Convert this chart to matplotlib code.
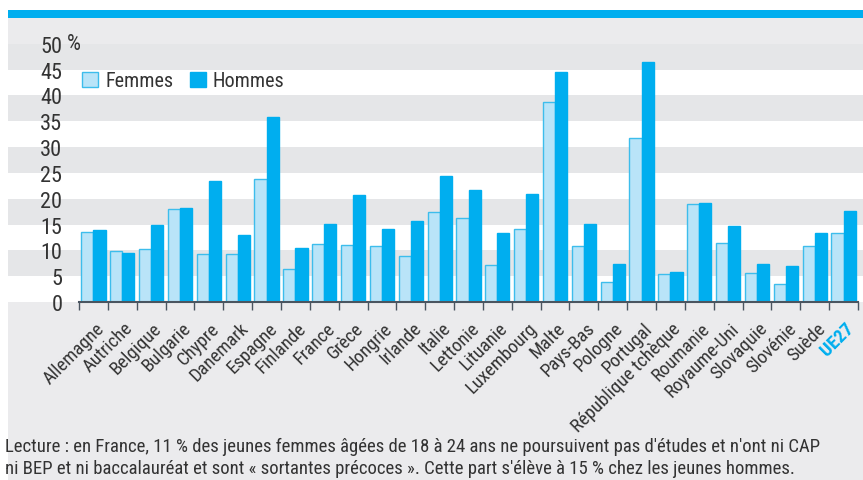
import matplotlib
matplotlib.use("Agg")
import matplotlib.pyplot as plt
from matplotlib.patches import Rectangle
import numpy as np
import logging
logging.getLogger("matplotlib.font_manager").setLevel(logging.ERROR)

plt.rcParams['font.family'] = ['Liberation Sans Narrow', 'DejaVu Sans Condensed',
                               'Roboto Condensed', 'Liberation Sans', 'DejaVu Sans']

pays = ["Allemagne", "Autriche", "Belgique", "Bulgarie", "Chypre", "Danemark",
        "Espagne", "Finlande", "France", "Grèce", "Hongrie", "Irlande", "Italie",
        "Lettonie", "Lituanie", "Luxembourg", "Malte", "Pays-Bas", "Pologne",
        "Portugal", "République tchèque", "Roumanie", "Royaume-Uni", "Slovaquie",
        "Slovénie", "Suède", "UE27"]
femmes = [13.6, 9.8, 10.3, 18.0, 9.2, 9.2, 23.8, 6.4, 11.2, 11.0, 10.8, 9.0, 17.4,
          16.2, 7.1, 14.1, 38.8, 10.8, 3.8, 31.7, 5.5, 18.9, 11.5, 5.6, 3.4, 10.8, 13.3]
hommes = [14.0, 9.4, 14.9, 18.3, 23.5, 12.9, 35.9, 10.5, 15.1, 20.7, 14.1, 15.6, 24.4,
          21.6, 13.3, 20.9, 44.6, 15.1, 7.3, 46.4, 5.8, 19.2, 14.7, 7.4, 7.0, 13.3, 17.6]
yticks = [0, 5, 10, 15, 20, 25, 30, 35, 40, 45, 50]

light_blue = "#b9e4f8"
light_edge = "#3dbdec"
blue = "#00aeef"
gray_bg = "#ebebed"
gray_band = "#e5e6e8"
text_col = "#333333"

W, H = 863, 481
fig = plt.figure(figsize=(W / 100, H / 100), dpi=100, facecolor="white")

# gray background + top blue bar
fig.add_artist(Rectangle((8 / W, 0), 1, 462 / H, transform=fig.transFigure,
                         facecolor=gray_bg, edgecolor="none", zorder=-10))
fig.add_artist(Rectangle((8 / W, 462 / H), 1, 8 / H, transform=fig.transFigure,
                         facecolor=blue, edgecolor="none", zorder=-10))

ax = fig.add_axes([79 / W, 178 / H, 779 / W, 284 / H])
ax.set_facecolor("none")
ax.set_xlim(0, 27)
ax.set_ylim(0, 55)

x0 = (8 - 79) / 779
x1 = 1 + 6 / 779
for lo in range(0, 50, 10):
    ax.axhspan(lo, lo + 5, xmin=x0, xmax=x1, color="white", clip_on=False, zorder=0, lw=0)
    ax.axhspan(lo + 5, lo + 10, xmin=x0, xmax=x1, color=gray_band, clip_on=False, zorder=0, lw=0)

x = np.arange(len(pays)) + 0.5
w = 0.42
ax.bar(x - w / 2, femmes, w, color=light_blue, edgecolor=light_edge, linewidth=1, zorder=2)
ax.bar(x + w / 2, hommes, w, color=blue, edgecolor=blue, linewidth=1, zorder=2)

for s in ["top", "right", "left"]:
    ax.spines[s].set_visible(False)
ax.spines["bottom"].set_color("#4a5560")
ax.spines["bottom"].set_linewidth(1.5)
ax.spines["bottom"].set_zorder(3)

ax.set_xticks(np.arange(28))
ax.set_xticklabels([])
ax.tick_params(axis="x", which="major", direction="out", length=6, width=1, color="#4a5560")
ax.set_xticks(x + 0.05, pays, minor=True)
ax.tick_params(axis="x", which="minor", length=0, pad=12, labelsize=13.5, labelcolor=text_col)
for lab in ax.get_xticklabels(minor=True):
    lab.set_rotation(45)
    lab.set_ha("right")
    lab.set_rotation_mode("anchor")
    if lab.get_text() == "UE27":
        lab.set_color(blue)
        lab.set_fontweight("bold")

ax.set_yticks(yticks)
ax.set_yticklabels([str(v) for v in yticks])
ax.tick_params(axis="y", length=0, pad=12, labelsize=16, labelcolor=text_col)
ax.text(-12 / 779 * 27, 50, "%", ha="left", va="center", fontsize=16, color=text_col)

handles = [Rectangle((0, 0), 1, 1, facecolor=light_blue, edgecolor=light_edge, lw=1),
           Rectangle((0, 0), 1, 1, facecolor=blue, edgecolor=blue, lw=1)]
ax.legend(handles, ["Femmes", "Hommes"], ncol=2, frameon=False, loc="center left",
          bbox_to_anchor=(0.004, (303 - 82) / 5.16 / 55), fontsize=14.5,
          handlelength=0.8, handleheight=0.8, handletextpad=0.35, columnspacing=0.8,
          borderaxespad=0, borderpad=0, labelcolor=text_col)

fig.text(5 / W, 1 - 447 / H,
         "Lecture : en France, 11 % des jeunes femmes âgées de 18 à 24 ans ne poursuivent pas d'études et n'ont ni CAP",
         fontsize=13.5, color=text_col, va="center", ha="left")
fig.text(5 / W, 1 - 469 / H,
         "ni BEP et ni baccalauréat et sont « sortantes précoces ». Cette part s'élève à 15 % chez les jeunes hommes.",
         fontsize=13.5, color=text_col, va="center", ha="left")

fig.savefig("out.png", dpi=100, facecolor="white")
